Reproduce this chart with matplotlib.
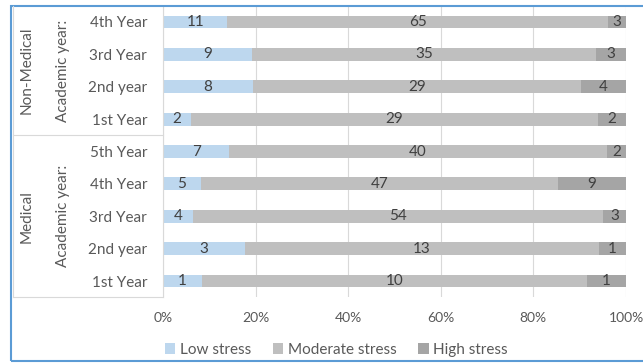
import matplotlib
matplotlib.use("Agg")
import matplotlib.pyplot as plt
import matplotlib.transforms as mtransforms
from matplotlib.lines import Line2D
from matplotlib.patches import Rectangle
import numpy as np

plt.rcParams['font.family'] = ['Lato', 'DejaVu Sans']

# rows from bottom to top
years = ["1st Year", "2nd year", "3rd Year", "4th Year", "5th Year",
         "1st Year", "2nd year", "3rd Year", "4th Year"]
low = [1, 3, 4, 5, 7, 2, 8, 9, 11]
moderate = [10, 13, 54, 47, 40, 29, 29, 35, 65]
high = [1, 1, 3, 9, 2, 2, 4, 3, 3]
series_names = ["Low stress", "Moderate stress", "High stress"]
colors = ["#BDD7EE", "#BFBFBF", "#A5A5A5"]

W, H = 643, 363
fs = 11
fig = plt.figure(figsize=(W / 100, H / 100), dpi=100)
ax = fig.add_axes([163 / W, 1 - 297.2 / H, (626 - 163) / W, (297.2 - 5.8) / H])

counts = np.array([low, moderate, high], dtype=float)
totals = counts.sum(axis=0)
pct = counts / totals * 100
y = np.arange(len(years))

left = np.zeros(len(years))
for i in range(3):
    bars = ax.barh(y, pct[i], left=left, height=0.4, color=colors[i],
                   label=series_names[i], zorder=2)
    for j, b in enumerate(bars):
        ax.text(left[j] + pct[i][j] / 2, y[j], str(int(counts[i][j])),
                ha="center", va="center", fontsize=fs, color="#404040", zorder=3)
    left += pct[i]

ax.set_xlim(0, 100)
ax.set_ylim(-0.5, len(years) - 0.5)
ax.set_xticks(np.arange(0, 101, 20))
ax.set_xticklabels([f"{v}%" for v in range(0, 101, 20)])
ax.set_yticks(y)
ax.set_yticklabels(years)
ax.tick_params(axis="both", length=0, labelsize=fs, labelcolor="#595959")
ax.tick_params(axis="y", pad=11.5)
ax.tick_params(axis="x", pad=11, labelsize=10)
ax.grid(axis="x", color="#D9D9D9", linewidth=0.8, zorder=0)
for s in ["top", "right", "bottom"]:
    ax.spines[s].set_visible(False)
ax.spines["left"].set_color("#D9D9D9")
ax.spines["left"].set_linewidth(0.8)

# group labels and table lines
trans = mtransforms.blended_transform_factory(fig.transFigure, ax.transData)
ax.text(27 / W, 6.5, "Non-Medical", rotation=90, transform=trans,
        ha="center", va="center", fontsize=fs, color="#595959")
ax.text(63 / W, 6.5, "Academic year:", rotation=90, transform=trans,
        ha="center", va="center", fontsize=fs, color="#595959")
ax.text(27 / W, 2, "Medical", rotation=90, transform=trans,
        ha="center", va="center", fontsize=fs, color="#595959")
ax.text(63 / W, 2, "Academic year:", rotation=90, transform=trans,
        ha="center", va="center", fontsize=fs, color="#595959")
for yy in [4.5, -0.5]:
    fig.add_artist(Line2D([13 / W, 163 / W], [yy, yy], transform=trans,
                          color="#D9D9D9", linewidth=0.8))
fig.add_artist(Line2D([13 / W, 13 / W], [-0.5, 8.5], transform=trans,
                      color="#D9D9D9", linewidth=0.8))

# outer frame
fig.add_artist(Rectangle((10.5 / W, 1 - 361 / H), 1.0, (361 - 5.5) / H,
                         transform=fig.transFigure, fill=False,
                         edgecolor="#5B9BD5", linewidth=1.5))

fig.legend(loc="center", bbox_to_anchor=(0.523, 1 - 350 / H), ncol=3,
           frameon=False, fontsize=fs, handlelength=0.7, handleheight=0.7,
           handletextpad=0.3, columnspacing=1.4, labelcolor="#595959")

fig.savefig("out.png", dpi=100)
